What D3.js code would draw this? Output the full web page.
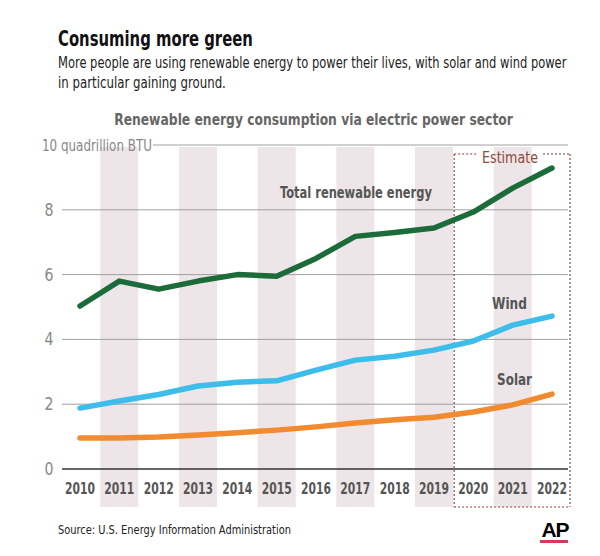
<!DOCTYPE html>
<html><head><meta charset="utf-8">
<script src="https://cdn.jsdelivr.net/npm/d3@7"></script>
<style>
body{margin:0;background:#fff;}
svg{display:block;font-family:"DejaVu Sans",sans-serif;font-stretch:condensed;}
</style></head><body>
<svg id="c" width="600" height="556"></svg>
<script>
const years = [2010,2011,2012,2013,2014,2015,2016,2017,2018,2019,2020,2021,2022];
const total = [5.03,5.8,5.55,5.8,6.0,5.95,6.5,7.18,7.3,7.44,7.93,8.67,9.29];
const wind  = [1.88,2.1,2.3,2.56,2.68,2.72,3.05,3.36,3.48,3.67,3.95,4.44,4.72];
const solar = [0.96,0.96,0.99,1.05,1.12,1.2,1.3,1.42,1.52,1.6,1.76,1.98,2.31];
const yTicks = [0,2,4,6,8,10];
const shadedYears = [2011,2013,2015,2017,2019,2021];
const estimateYears = [2020,2021,2022];

const svg = d3.select("#c");
const x = d3.scalePoint().domain(years).range([80,552]);
const step = x.step();
const y = d3.scaleLinear().domain([0,10]).range([469,145]);

// text drawn at its natural width, then squeezed horizontally to the target width
function txt(sel, t, o){
  const g = sel.append("g");
  const e = g.append("text").attr("x",0).attr("y",0).attr("font-size",o.size).attr("fill",o.fill||"#222").text(t);
  if(o.anchor) e.attr("text-anchor",o.anchor);
  if(o.bold) e.attr("font-weight","bold");
  let s = 1;
  if(o.len){ const w = e.node().getComputedTextLength(); if(w>0) s = o.len/w; }
  g.attr("transform",`translate(${o.x},${o.y}) scale(${s},1)`);
  return e;
}

// titles
txt(svg,"Consuming more green",{x:58,y:46,size:22,bold:true,fill:"#111",len:195});
txt(svg,"More people are using renewable energy to power their lives, with solar and wind power",{x:58,y:68,size:15,fill:"#222",len:509});
txt(svg,"in particular gaining ground.",{x:58,y:88,size:15,fill:"#222",len:168});
txt(svg,"Renewable energy consumption via electric power sector",{x:313.5,y:125,size:16.5,bold:true,fill:"#666",anchor:"middle",len:399});

// bands
svg.append("g").selectAll("rect").data(shadedYears).join("rect")
  .attr("x",d=>x(d)-19).attr("width",38)
  .attr("y",y(10)+2).attr("height",507-y(10)-2)
  .attr("fill","#ede5e7");

// gridlines
svg.append("g").selectAll("line").data(yTicks.filter(d=>d>0)).join("line")
  .attr("x1",d=>d===10?153:62).attr("x2",568)
  .attr("y1",d=>y(d)).attr("y2",d=>y(d))
  .attr("stroke","#a0a0a0").attr("stroke-width",1);
svg.append("line").attr("x1",62).attr("x2",568).attr("y1",y(0)).attr("y2",y(0)).attr("stroke","#333").attr("stroke-width",1.3);

// y labels
yTicks.forEach(d=>{
  if(d===10) txt(svg,"10 quadrillion BTU",{x:42,y:y(d)+6,size:16,fill:"#888",len:110});
  else txt(svg,String(d),{x:49,y:y(d)+6,size:17,fill:"#888",anchor:"middle",len:9});
});

// x labels
years.forEach(d=>txt(svg,String(d),{x:x(d),y:494,size:16,bold:true,fill:"#555",anchor:"middle",len:30}));

// estimate box
const bx1 = x(estimateYears[0]) - step/2 + 0.5, bx2 = x(estimateYears[2]) + 18, by1 = 154, by2 = 507;
const box = svg.append("g").attr("stroke","#8a3a3a").attr("stroke-width",1.1).attr("stroke-dasharray","2,2").attr("fill","none");
box.append("line").attr("x1",bx1).attr("x2",bx1).attr("y1",by1).attr("y2",by2);
box.append("line").attr("x1",bx2).attr("x2",bx2).attr("y1",by1).attr("y2",by2);
box.append("line").attr("x1",bx1).attr("x2",bx2).attr("y1",by2).attr("y2",by2);
box.append("line").attr("x1",bx1).attr("x2",477).attr("y1",by1).attr("y2",by1);
box.append("line").attr("x1",543).attr("x2",bx2).attr("y1",by1).attr("y2",by1);
txt(svg,"Estimate",{x:510,y:163,size:16.5,fill:"#8b4a3c",anchor:"middle",len:56});

// lines
const line = d3.line().x((d,i)=>x(years[i])).y(d=>y(d));
[[solar,"#f28a30"],[wind,"#3dbde9"],[total,"#1c6b3b"]].forEach(([s,c])=>{
  svg.append("path").attr("d",line(s)).attr("fill","none").attr("stroke",c)
    .attr("stroke-width",5.5).attr("stroke-linecap","round").attr("stroke-linejoin","round");
});

// series labels
txt(svg,"Total renewable energy",{x:356,y:198,size:16.5,bold:true,fill:"#555",anchor:"middle",len:152});
txt(svg,"Wind",{x:509.5,y:309,size:16.5,bold:true,fill:"#555",anchor:"middle",len:35});
txt(svg,"Solar",{x:514.5,y:385,size:16.5,bold:true,fill:"#555",anchor:"middle",len:35});

// source and logo
txt(svg,"Source: U.S. Energy Information Administration",{x:58,y:534,size:12.5,fill:"#222",len:233});
svg.append("text").attr("x",555).attr("y",537).attr("text-anchor","middle").attr("font-size",21).attr("font-weight","bold").attr("font-family","Liberation Sans, Arial, sans-serif").attr("fill","#000").attr("letter-spacing",-1).text("AP");
svg.append("rect").attr("x",540).attr("y",540).attr("width",28).attr("height",3).attr("fill","#d9375b");
</script></body></html>
